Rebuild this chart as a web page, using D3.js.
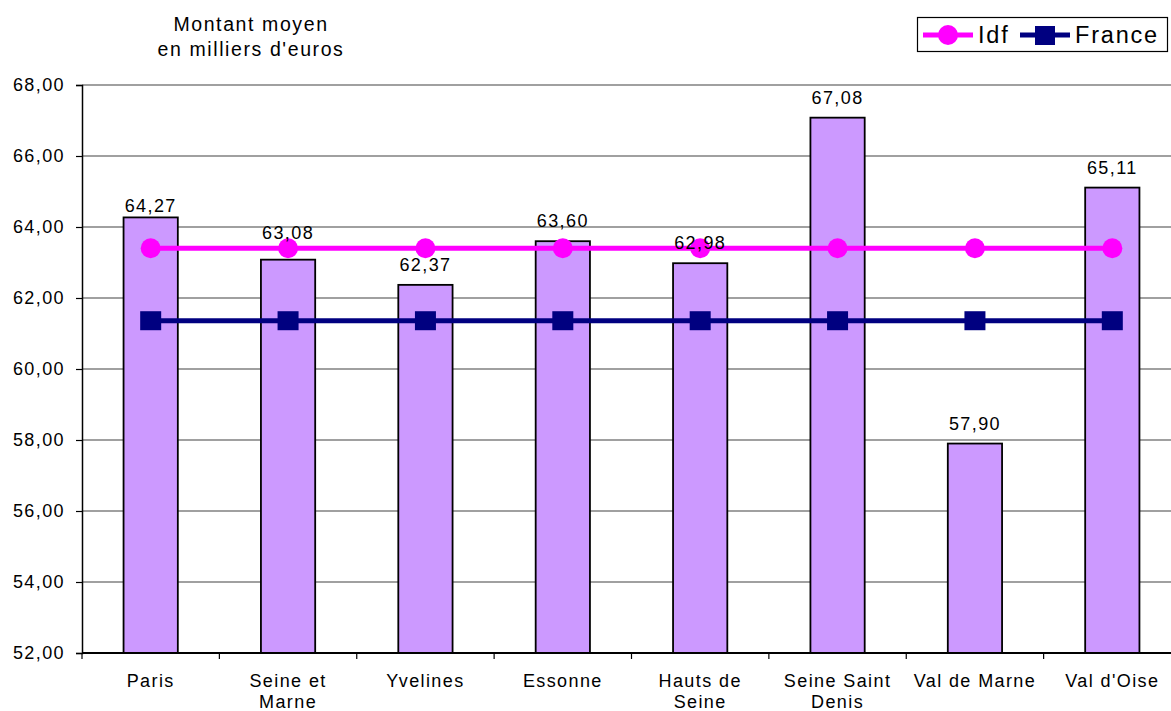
<!DOCTYPE html>
<html><head><meta charset="utf-8">
<script src="https://cdn.jsdelivr.net/npm/d3@7/dist/d3.min.js"></script>
<style>
html,body{margin:0;padding:0;background:#fff;}
svg{display:block;font-family:"Liberation Sans",Arial,sans-serif;}
</style></head>
<body>
<svg id="c" width="1171" height="711"></svg>
<script>
const categories = ["Paris","Seine et\nMarne","Yvelines","Essonne","Hauts de\nSeine","Seine Saint\nDenis","Val de Marne","Val d'Oise"];
const montants = [64.27, 63.08, 62.37, 63.60, 62.98, 67.08, 57.90, 65.11];
const idf = [63.40, 63.40, 63.40, 63.40, 63.40, 63.40, 63.40, 63.40];
const france = [61.36, 61.36, 61.36, 61.36, 61.36, 61.36, 61.36, 61.36];
const yTicks = [52, 54, 56, 58, 60, 62, 64, 66, 68];
const titleLines = ["Montant moyen", "en milliers d'euros"];
const seriesNames = ["Idf", "France"];

const svg = d3.select("#c");
const fmt = v => v.toFixed(2).replace(".", ",");
const x = d3.scaleBand().domain(d3.range(categories.length)).range([82, 1181]).padding(0);
const y = d3.scaleLinear().domain([52, 68]).range([653, 85]);
const cx = i => x(i) + x.bandwidth() / 2;
const barW = x.bandwidth() * 0.395;
const FS = 18, LS = 1.4;
// manual label nudges (pixels) as placed in the original chart
const labelGap = i => (i === 0 ? 5.5 : i === 1 ? 21 : 14);

// gridlines
svg.append("g").selectAll("line").data(yTicks.slice(1)).join("line")
  .attr("x1", 82).attr("x2", 1181).attr("y1", d => y(d)).attr("y2", d => y(d))
  .attr("stroke", "#808080").attr("stroke-width", 1.5);

// y axis
const yAxis = svg.append("g").attr("transform", "translate(82,0)")
  .call(d3.axisLeft(y).tickValues(yTicks).tickFormat(fmt).tickSize(6).tickPadding(11));
yAxis.select(".domain").attr("stroke", "#000").attr("stroke-width", 1.5);
yAxis.selectAll(".tick line").attr("stroke", "#000").attr("stroke-width", 1.2);
yAxis.selectAll("text").attr("font-size", FS).attr("letter-spacing", LS).attr("fill", "#000")
  .attr("font-family", "Liberation Sans, Arial, sans-serif");

// bars
svg.append("g").selectAll("rect").data(montants).join("rect")
  .attr("x", (d, i) => cx(i) - barW / 2).attr("width", barW)
  .attr("y", d => y(d)).attr("height", d => y(52) - y(d))
  .attr("fill", "#CC99FF").attr("stroke", "#000").attr("stroke-width", 1.8);

// x axis
svg.append("line").attr("x1", 82).attr("x2", 1181).attr("y1", y(52)).attr("y2", y(52))
  .attr("stroke", "#000").attr("stroke-width", 2);
svg.append("g").selectAll("line").data(d3.range(categories.length + 1)).join("line")
  .attr("x1", i => 82 + i * x.step()).attr("x2", i => 82 + i * x.step())
  .attr("y1", y(52)).attr("y2", y(52) + 6).attr("stroke", "#000").attr("stroke-width", 1.2);

// category labels
const cl = svg.append("g").selectAll("text").data(categories).join("text")
  .attr("x", (d, i) => cx(i)).attr("y", 687).attr("text-anchor", "middle")
  .attr("font-size", FS).attr("letter-spacing", LS).attr("fill", "#000");
cl.each(function(d, i) {
  const t = d3.select(this);
  d.split("\n").forEach((s, k) => {
    t.append("tspan").attr("x", cx(i)).attr("dy", k === 0 ? 0 : 21).text(s);
  });
});

// lines
const line = d3.line().x((d, i) => cx(i)).y(d => y(d));
svg.append("path").datum(france).attr("d", line).attr("fill", "none")
  .attr("stroke", "#000080").attr("stroke-width", 5);
svg.append("g").selectAll("rect").data(france).join("rect")
  .attr("x", (d, i) => cx(i) - 10.5).attr("y", d => y(d) - 9.5)
  .attr("width", 21).attr("height", 19).attr("fill", "#000080");
svg.append("path").datum(idf).attr("d", line).attr("fill", "none")
  .attr("stroke", "#FF00FF").attr("stroke-width", 5);
svg.append("g").selectAll("circle").data(idf).join("circle")
  .attr("cx", (d, i) => cx(i)).attr("cy", d => y(d)).attr("r", 10).attr("fill", "#FF00FF");

// value labels (on top)
svg.append("g").selectAll("text").data(montants).join("text")
  .attr("x", (d, i) => cx(i)).attr("y", (d, i) => y(d) - labelGap(i)).attr("text-anchor", "middle")
  .attr("font-size", FS).attr("letter-spacing", LS).attr("fill", "#000").text(fmt);

// title
svg.append("g").selectAll("text").data(titleLines).join("text")
  .attr("x", 251).attr("y", (d, i) => 31 + i * 25).attr("text-anchor", "middle")
  .attr("font-size", 19.5).attr("letter-spacing", 1.6).attr("fill", "#000").text(d => d);

// legend
const lg = svg.append("g");
lg.append("rect").attr("x", 917.5).attr("y", 17.5).attr("width", 250).attr("height", 34)
  .attr("fill", "#fff").attr("stroke", "#000").attr("stroke-width", 1.2);
lg.append("line").attr("x1", 923).attr("x2", 973).attr("y1", 35).attr("y2", 35)
  .attr("stroke", "#FF00FF").attr("stroke-width", 5);
lg.append("circle").attr("cx", 948).attr("cy", 35).attr("r", 10).attr("fill", "#FF00FF");
lg.append("line").attr("x1", 1020).attr("x2", 1070).attr("y1", 35).attr("y2", 35)
  .attr("stroke", "#000080").attr("stroke-width", 5);
lg.append("rect").attr("x", 1035).attr("y", 26).attr("width", 20).attr("height", 19).attr("fill", "#000080");
lg.append("text").attr("x", 978).attr("y", 43).attr("font-size", 23.5).attr("letter-spacing", 1.8).text(seriesNames[0]);
lg.append("text").attr("x", 1075).attr("y", 43).attr("font-size", 23.5).attr("letter-spacing", 1.8).text(seriesNames[1]);
</script>
</body></html>
